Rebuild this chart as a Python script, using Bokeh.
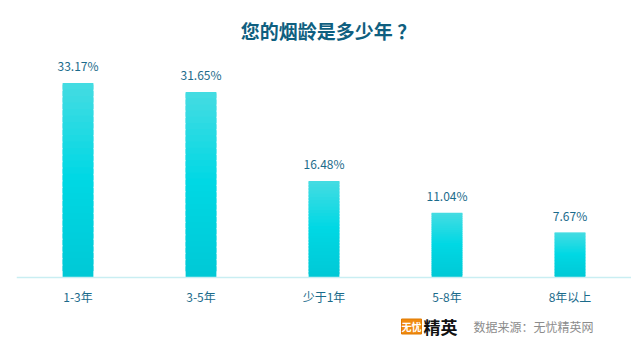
from bokeh.plotting import figure
from bokeh.models import ColumnDataSource, Label, Range1d, FactorRange, Span
from bokeh.core.properties import value
from bokeh.embed import file_html
from bokeh.resources import INLINE

categories = ["1-3年", "3-5年", "少于1年", "5-8年", "8年以上"]
values = [33.17, 31.65, 16.48, 11.04, 7.67]
labels = ["33.17%", "31.65%", "16.48%", "11.04%", "7.67%"]

FONT = "Noto Sans CJK SC"
PX = 5.86  # pixels per percentage point

p = figure(width=631, height=357, x_range=FactorRange(*categories, range_padding=0),
           y_range=Range1d(-80 / PX, 277 / PX), output_backend="svg", toolbar_location=None,
           min_border_left=16, min_border_right=0, min_border_top=0, min_border_bottom=0)
p.outline_line_color = None
p.xgrid.visible = False
p.ygrid.visible = False
p.yaxis.visible = False
p.xaxis.visible = False

# gradient bars via stacked slices
def lerp(c1, c2, t):
    return "#%02x%02x%02x" % tuple(int(round(a + (b - a) * t)) for a, b in zip(c1, c2))

top_c = (0x48, 0xdc, 0xe2)
mid_c = (0x00, 0xd8, 0xe4)
bot_c = (0x00, 0xc9, 0xd6)
N = 30
xs, bottoms, tops, colors = [], [], [], []
for cat, v in zip(categories, values):
    for i in range(N):
        t = i / N  # 0 bottom -> 1 top
        if t < 0.5:
            col = lerp(bot_c, mid_c, t / 0.5)
        else:
            col = lerp(mid_c, top_c, (t - 0.5) / 0.5)
        xs.append(cat)
        bottoms.append(v * i / N)
        tops.append(min(v, v * (i + 1.8) / N))
        colors.append(col)
src = ColumnDataSource(dict(x=xs, bottom=bottoms, top=tops, color=colors))
p.vbar(x="x", bottom="bottom", top="top", width=0.25, fill_color="color",
       line_color=None, source=src)

# baseline
p.add_layout(Span(location=0, dimension="width", line_color="#c9eef2", line_width=1.5))

lsrc = ColumnDataSource(dict(x=categories, y=values, t=labels, z=[0] * len(values)))
p.text(x="x", y="y", text="t", source=lsrc, text_align="center", text_baseline="bottom",
       y_offset=-9, text_font=value(FONT), text_font_size="12px", text_color="#1b6b8b")
# category labels
p.text(x="x", y="z", text="x", source=lsrc, text_align="center", text_baseline="middle",
       y_offset=19, text_font=value(FONT), text_font_size="12px", text_color="#1b6b8b")

# title
p.add_layout(Label(x=312, y=327, x_units="screen", y_units="screen", text="您的烟龄是多少年 ？",
                   text_font=FONT, text_font_size="19px", text_font_style="bold",
                   text_color="#0f5f80", text_align="center", text_baseline="middle"))

# footer
p.add_layout(Label(x=385, y=31, x_units="screen", y_units="screen", text="无忧",
                   text_font=FONT, text_font_size="10px", text_font_style="bold",
                   text_color="white", text_baseline="middle",
                   background_fill_color="#f08a10", border_line_color="#e07a00"))
p.add_layout(Label(x=407, y=31, x_units="screen", y_units="screen", text="精英",
                   text_font=FONT, text_font_size="17px", text_font_style="bold",
                   text_color="#111111", text_baseline="middle"))
p.add_layout(Label(x=457, y=31, x_units="screen", y_units="screen", text="数据来源：无忧精英网",
                   text_font=FONT, text_font_size="12px",
                   text_color="#8c8c8c", text_baseline="middle"))

open("out.html", "w").write(file_html(p, INLINE))
